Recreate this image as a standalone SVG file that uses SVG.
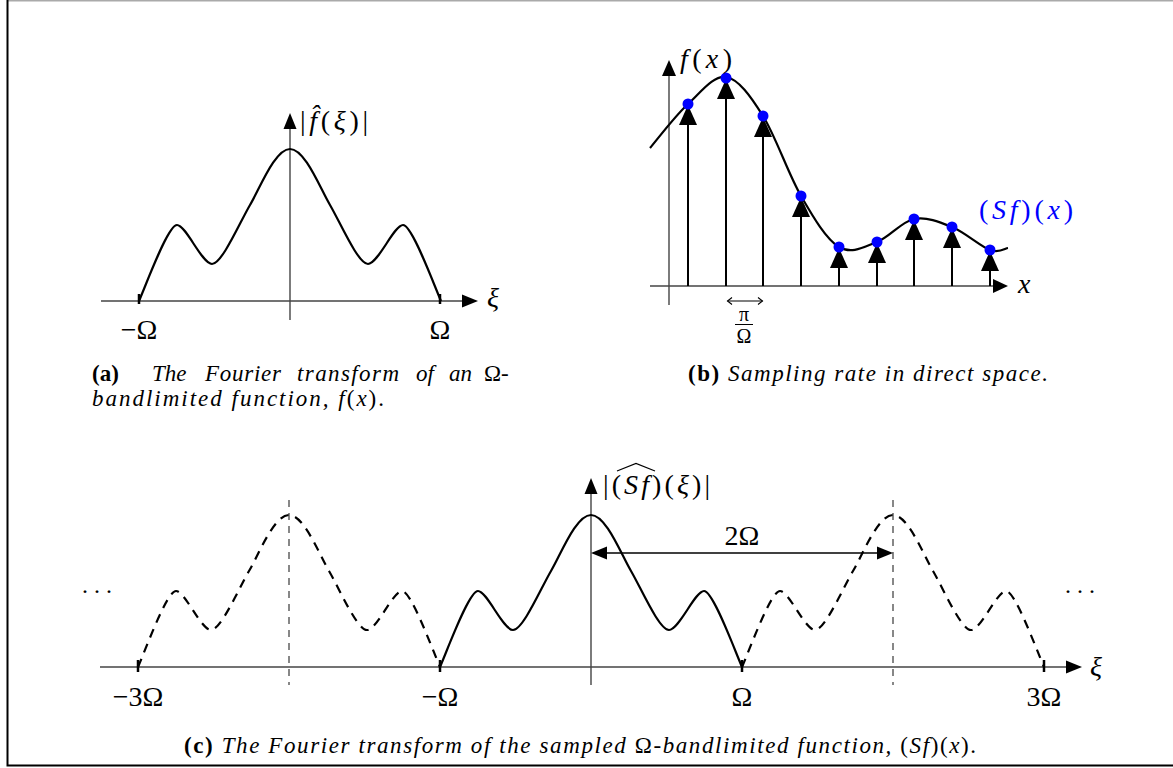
<svg xmlns="http://www.w3.org/2000/svg" width="1173" height="768" viewBox="0 0 1173 768">
<style>
  .ax{stroke:#444;stroke-width:1.4;fill:none}
  .cv{stroke:#000;stroke-width:2.2;fill:none;stroke-linejoin:round}
  .dcv{stroke:#000;stroke-width:2.2;fill:none;stroke-dasharray:9 7}
  .vd{stroke:#555;stroke-width:1.4;stroke-dasharray:7 6}
  .tick{stroke:#000;stroke-width:2.5}
  .ah{fill:#000}
  .stem{stroke:#000;stroke-width:2}
  .dot{fill:#0000ff}
  .thin{stroke:#000;stroke-width:1.1;fill:none}
  text{font-family:"Liberation Serif","DejaVu Serif",serif;fill:#000}
  .m{font-size:28px}
  .s{font-size:20px}
  .i{font-style:italic}
  .cap{font-size:23px;font-style:italic}
  .b{font-weight:bold;font-style:normal}
  .u{font-style:normal}
</style>
<defs>
  <path id="spec" d="M-151,0 C-142,-21 -122,-76 -113,-76 C-104,-76 -88,-37 -78,-37 C-68,-37 -50,-79 -40,-96 C-30,-113 -15,-152 0,-152 C15,-152 30,-113 40,-96 C50,-79 68,-37 78,-37 C88,-37 104,-76 113,-76 C122,-76 142,-21 151,0"/>
</defs>

<g id="frame">
  <line x1="7" y1="0.75" x2="1173" y2="0.75" stroke="#aaa" stroke-width="1.5"/>
  <path d="M7.5,0 V765.5 H1173" stroke="#000" stroke-width="2" fill="none"/>
</g>

<!-- Panel (a) -->
<g id="panel-a">
  <line class="ax" x1="101" y1="301" x2="464" y2="301"/>
  <polygon class="ah" points="478,301 462,294.5 462,307.5"/>
  <line class="ax" x1="290" y1="320" x2="290" y2="127"/>
  <polygon class="ah" points="290,113 283.5,129 296.5,129"/>
  <use href="#spec" class="cv" transform="translate(290,301)"/>
  <line class="tick" x1="139" y1="294" x2="139" y2="304"/>
  <line class="tick" x1="440" y1="294" x2="440" y2="304"/>
  <text class="m" x="300" y="130" textLength="68" lengthAdjust="spacing">|<tspan class="i">f̂</tspan>(<tspan class="i">ξ</tspan>)|</text>
  <text class="m i" x="487" y="307">ξ</text>
  <text class="m" x="139" y="339" text-anchor="middle">−Ω</text>
  <text class="m" x="440" y="339" text-anchor="middle">Ω</text>
  <text class="cap" y="381"><tspan class="b" x="92">(a)</tspan><tspan x="152">The</tspan><tspan x="205" textLength="76" lengthAdjust="spacing">Fourier</tspan><tspan x="297" textLength="102" lengthAdjust="spacing">transform</tspan><tspan x="416">of</tspan><tspan x="449">an</tspan><tspan x="484" class="u">Ω-</tspan></text>
  <text class="cap" x="92" y="406" textLength="292" lengthAdjust="spacing">bandlimited function, <tspan>f</tspan><tspan class="u">(</tspan>x<tspan class="u">).</tspan></text>
</g>

<!-- Panel (b) -->
<g id="panel-b">
  <line class="ax" x1="650" y1="286" x2="995" y2="286"/>
  <polygon class="ah" points="1008,286 993,279 993,293"/>
  <line class="ax" x1="669" y1="305" x2="669" y2="74"/>
  <polygon class="ah" points="669,60 662,76 676,76"/>
  <path class="cv" d="M650,148 C656,141 675,116 688,104 C701,92 713.5,75 726,77 C738.5,79 750.5,96 763,116 C775.5,136 788.3,174 801,196 C813.7,218 826.3,239.3 839,247 C851.7,254.7 864.5,246.7 877,242 C889.5,237.3 901.5,221.5 914,219 C926.5,216.5 939.3,221.8 952,227 C964.7,232.2 980.7,246.5 990,250 C999.3,253.5 1005,248.3 1008,248"/>
  <g id="samples">
    <line class="stem" x1="688" y1="286" x2="688" y2="122"/><polygon class="ah" points="688,105 679,125 697,125"/><circle class="dot" cx="688" cy="104" r="5.5"/>
    <line class="stem" x1="726" y1="286" x2="726" y2="96"/><polygon class="ah" points="726,79 717,99 735,99"/><circle class="dot" cx="726" cy="78" r="5.5"/>
    <line class="stem" x1="763" y1="286" x2="763" y2="134"/><polygon class="ah" points="763,117 754,137 772,137"/><circle class="dot" cx="763" cy="116" r="5.5"/>
    <line class="stem" x1="801" y1="286" x2="801" y2="214"/><polygon class="ah" points="801,197 792,217 810,217"/><circle class="dot" cx="801" cy="196" r="5.5"/>
    <line class="stem" x1="839" y1="286" x2="839" y2="265"/><polygon class="ah" points="839,248 830,268 848,268"/><circle class="dot" cx="839" cy="247" r="5.5"/>
    <line class="stem" x1="877" y1="286" x2="877" y2="260"/><polygon class="ah" points="877,243 868,263 886,263"/><circle class="dot" cx="877" cy="242" r="5.5"/>
    <line class="stem" x1="914" y1="286" x2="914" y2="237"/><polygon class="ah" points="914,220 905,240 923,240"/><circle class="dot" cx="914" cy="219" r="5.5"/>
    <line class="stem" x1="952" y1="286" x2="952" y2="245"/><polygon class="ah" points="952,228 943,248 961,248"/><circle class="dot" cx="952" cy="227" r="5.5"/>
    <line class="stem" x1="990" y1="286" x2="990" y2="268"/><polygon class="ah" points="990,251 981,271 999,271"/><circle class="dot" cx="990" cy="250" r="5.5"/>
  </g>
  <line class="thin" x1="727.5" y1="301" x2="762.5" y2="301"/>
  <path class="thin" d="M732,297.5 L727.5,301 L732,304.5 M758,297.5 L762.5,301 L758,304.5"/>
  <text class="s" x="744" y="321" text-anchor="middle">π</text>
  <line x1="735" y1="324.5" x2="753" y2="324.5" stroke="#000" stroke-width="1"/>
  <text class="s" x="744" y="343" text-anchor="middle">Ω</text>
  <text class="m i" x="680" y="68" textLength="52" lengthAdjust="spacing">f<tspan class="u">(</tspan>x<tspan class="u">)</tspan></text>
  <text class="m" x="979" y="219" textLength="94" lengthAdjust="spacing" style="fill:#0000ff">(<tspan class="i">Sf</tspan>)(<tspan class="i">x</tspan>)</text>
  <text class="m i" x="1018" y="293">x</text>
  <text class="cap" x="688" y="381" textLength="360" lengthAdjust="spacing"><tspan class="b">(b)</tspan> Sampling rate in direct space.</text>
</g>

<!-- Panel (c) -->
<g id="panel-c">
  <line class="ax" x1="100" y1="667" x2="1068" y2="667"/>
  <polygon class="ah" points="1082,667 1066,660.5 1066,673.5"/>
  <line class="ax" x1="591" y1="685" x2="591" y2="492"/>
  <polygon class="ah" points="591,478 584.5,494 597.5,494"/>
  <line class="vd" x1="289" y1="500" x2="289" y2="685"/>
  <line class="vd" x1="893" y1="500" x2="893" y2="685"/>
  <use href="#spec" class="dcv" transform="translate(289,667)"/>
  <use href="#spec" class="dcv" transform="translate(893,667)"/>
  <use href="#spec" class="cv" transform="translate(591,667)"/>
  <line class="tick" x1="138" y1="660" x2="138" y2="672"/>
  <line class="tick" x1="440" y1="660" x2="440" y2="672"/>
  <line class="tick" x1="742" y1="660" x2="742" y2="672"/>
  <line class="tick" x1="1044" y1="660" x2="1044" y2="672"/>
  <line class="thin" x1="605" y1="553" x2="879" y2="553" style="stroke-width:1.3"/>
  <polygon class="ah" points="591,553 607,546.5 607,559.5"/>
  <polygon class="ah" points="893,553 877,546.5 877,559.5"/>
  <text class="m" x="742" y="545" text-anchor="middle">2Ω</text>
  <text class="m" x="603" y="494" textLength="107" lengthAdjust="spacing">|(<tspan class="i">Sf</tspan>)(<tspan class="i">ξ</tspan>)|</text>
  <path d="M617,471 L636,463.5 L655,471" fill="none" stroke="#000" stroke-width="1.2"/>
  <text class="m i" x="1090" y="676">ξ</text>
  <text class="m" x="138" y="706" text-anchor="middle">−3Ω</text>
  <text class="m" x="440" y="706" text-anchor="middle">−Ω</text>
  <text class="m" x="742" y="706" text-anchor="middle">Ω</text>
  <text class="m" x="1044" y="706" text-anchor="middle">3Ω</text>
  <text x="82" y="593" style="font-size:24px">. . .</text>
  <text x="1065" y="593" style="font-size:24px">. . .</text>
  <text class="cap" x="184" y="753" textLength="792" lengthAdjust="spacing"><tspan class="b">(c)</tspan> The Fourier transform of the sampled <tspan class="u">Ω</tspan>-bandlimited function, <tspan class="u">(</tspan>Sf<tspan class="u">)(</tspan>x<tspan class="u">).</tspan></text>
</g>
</svg>
